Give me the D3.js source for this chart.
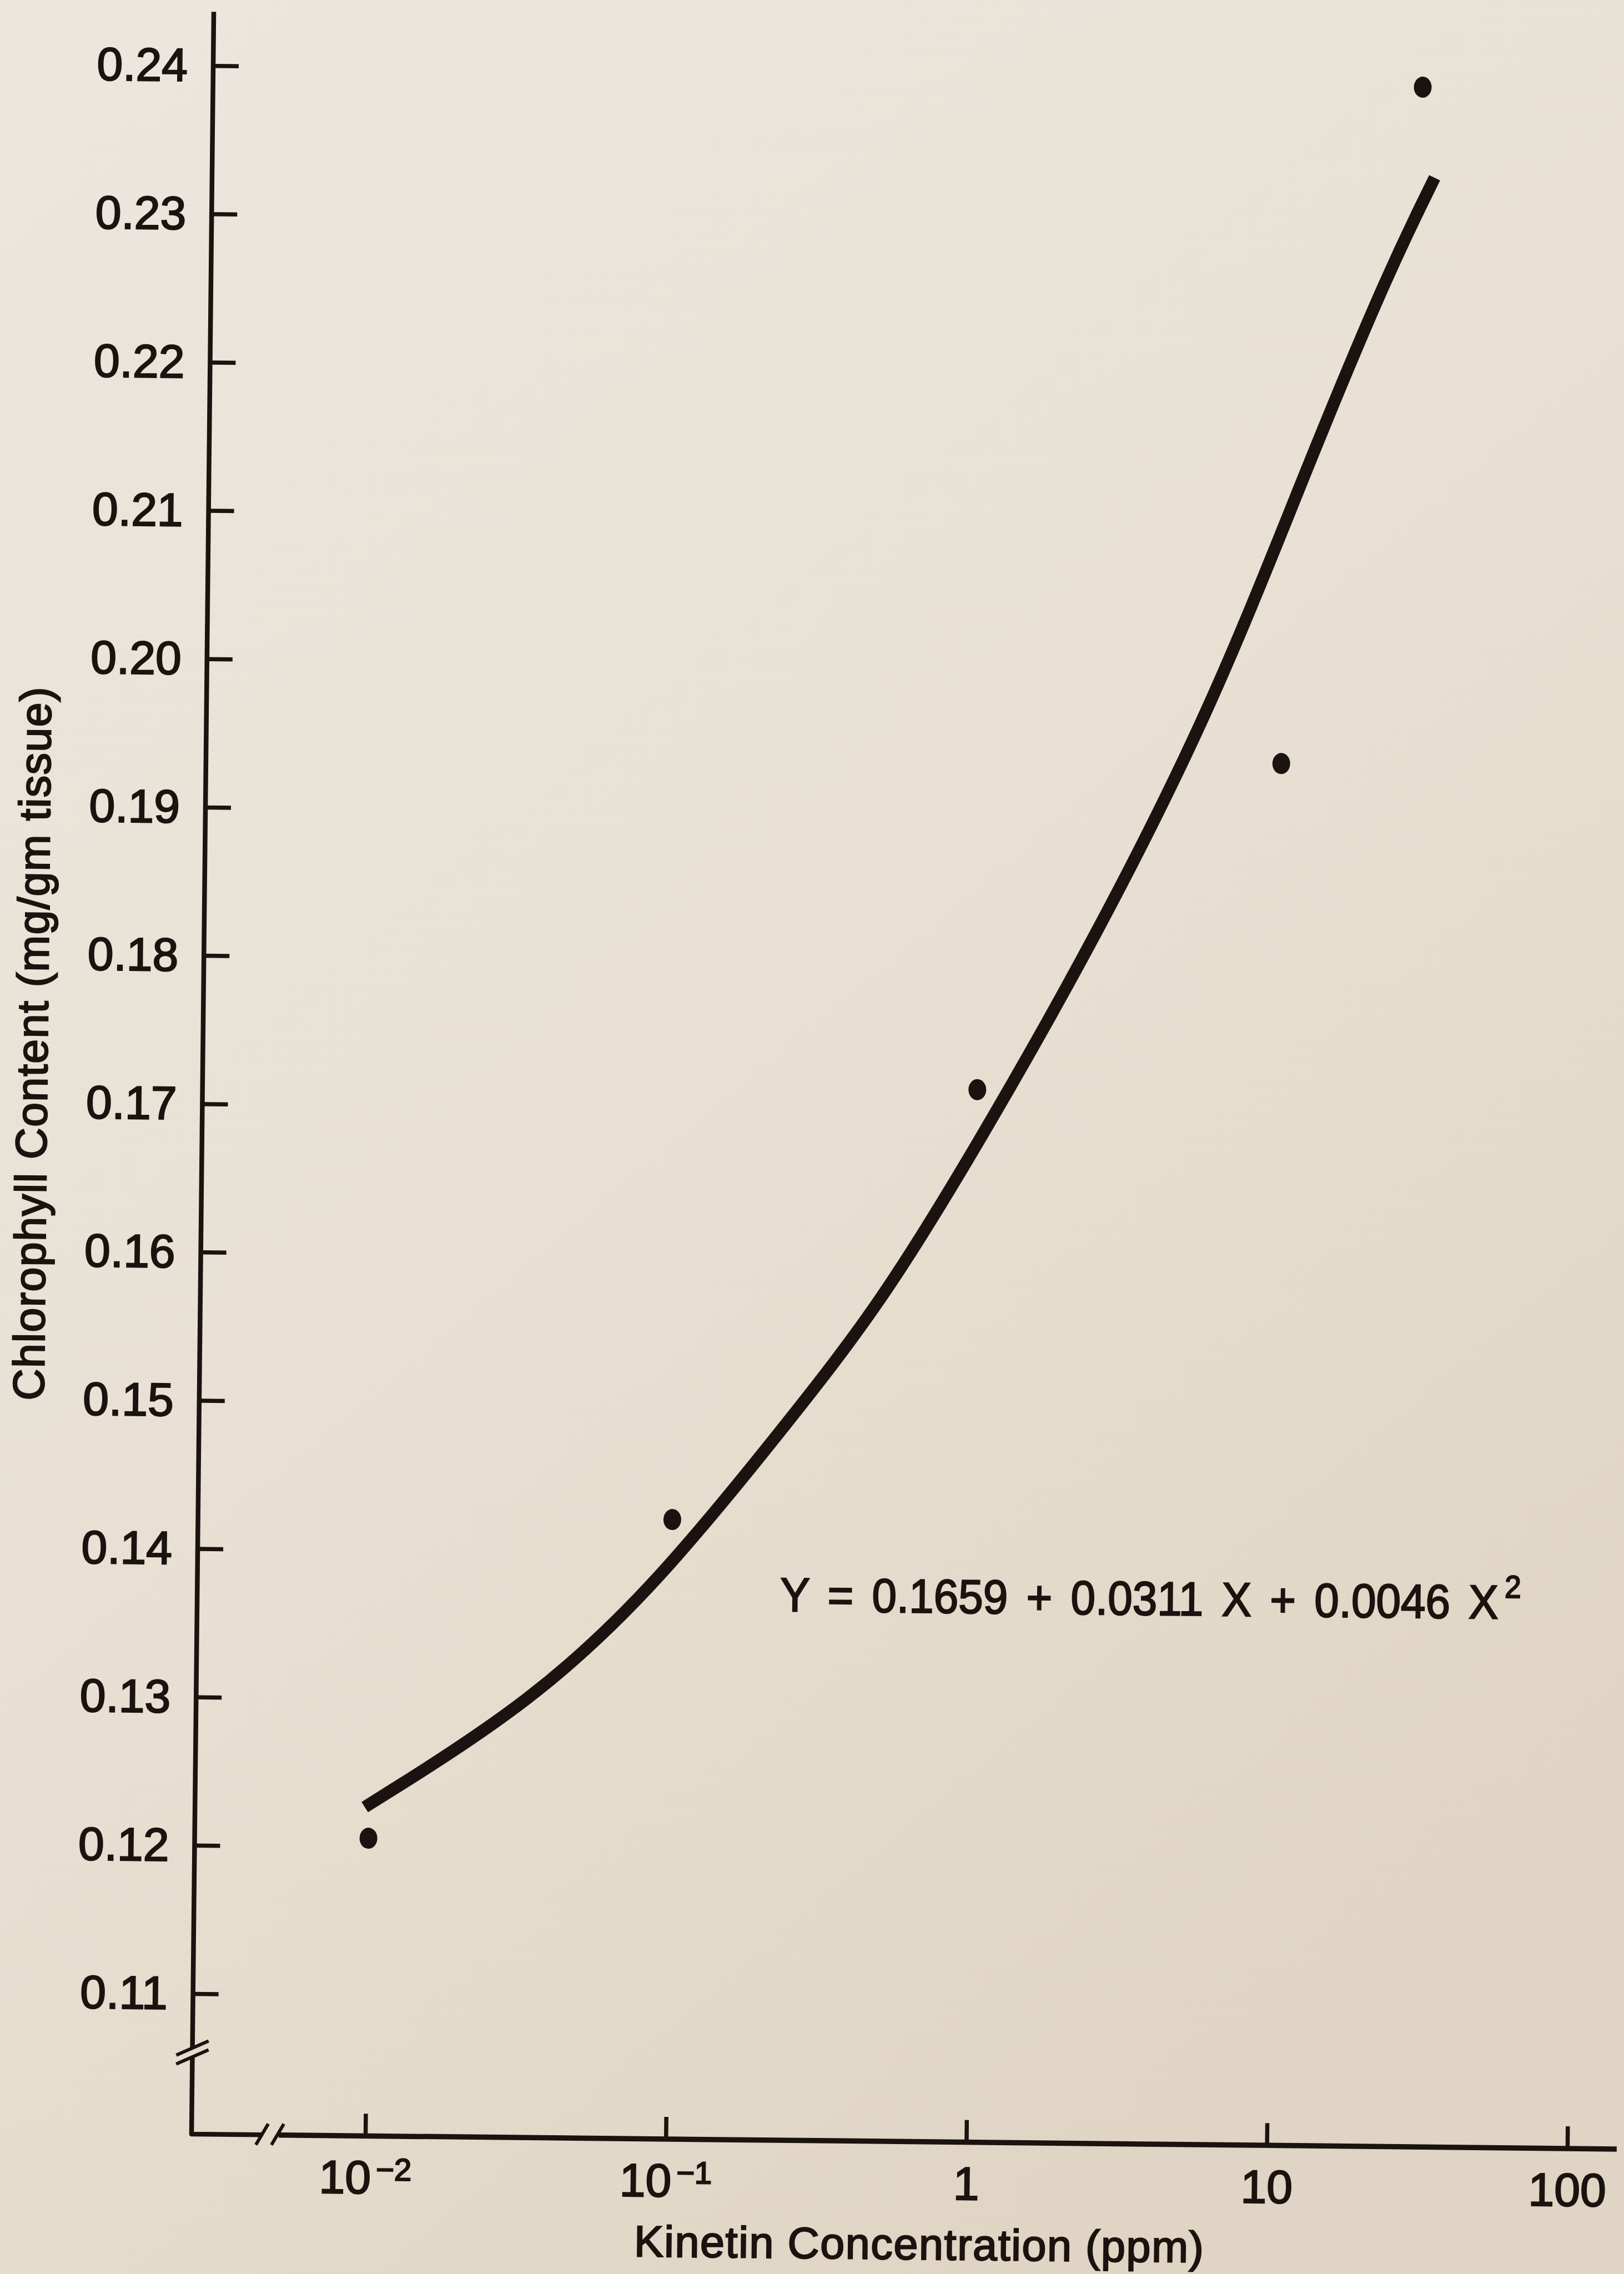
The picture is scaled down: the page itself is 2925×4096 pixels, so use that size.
<!DOCTYPE html>
<html>
<head>
<meta charset="utf-8">
<script src="https://cdn.jsdelivr.net/npm/d3@7"></script>
<style>
  html, body { margin: 0; padding: 0; background: #e8e1d5; }
  svg { display: block; }
  text { font-family: "Liberation Sans", Arial, Helvetica, sans-serif; fill: #1b130f; }
</style>
</head>
<body>
<svg id="chart" width="2925" height="4096"></svg>
<script>
// measured data (kinetin ppm vs chlorophyll mg/gm tissue)
var kinetinPpm = [0.01, 0.1, 1, 10, 28];
var chlorophyll = [0.1206, 0.1423, 0.1715, 0.1937, 0.2394];

// fitted curve as drawn on the figure
var curveConc = [0.0097, 0.0348, 0.091, 0.244, 0.489, 1.035, 2.427, 5.943, 11.78, 21.68, 30.9];
var curveChl = [0.1227, 0.1299, 0.1381, 0.1491, 0.1571, 0.1682, 0.1817, 0.1977, 0.2135, 0.2268, 0.2333];

var yTicks = [0.11, 0.12, 0.13, 0.14, 0.15, 0.16, 0.17, 0.18, 0.19, 0.20, 0.21, 0.22, 0.23, 0.24];
var xTicks = [0.01, 0.1, 1, 10, 100];
var xTickBase = ['10', '10', '1', '10', '100'];
var xTickExp = ['\u22122', '\u22121', '', '', ''];

var yTitle = 'Chlorophyll Content (mg/gm tissue)';
var xTitle = 'Kinetin Concentration (ppm)';
var eqText = 'Y = 0.1659 + 0.0311 X + 0.0046 X';
var eqSup = '2';
var eqAt = [0.23, 0.1362];

var ink = '#1b130f';
var svg = d3.select('#chart');
var W = +svg.attr('width'), H = +svg.attr('height');

var defs = svg.append('defs');
var bg = defs.append('linearGradient').attr('id', 'paper').attr('x1', 0).attr('y1', 0).attr('x2', 0.6).attr('y2', 1);
bg.append('stop').attr('offset', '0%').attr('stop-color', '#ebe7df');
bg.append('stop').attr('offset', '55%').attr('stop-color', '#e8e0d3');
bg.append('stop').attr('offset', '100%').attr('stop-color', '#e0d5c4');
svg.append('rect').attr('width', W).attr('height', H).attr('fill', 'url(#paper)');

// axis corner; the photographed page is turned a little clockwise
var cx = 345, cy = 3844;
var g = svg.append('g').attr('transform', 'rotate(0.6,' + cx + ',' + cy + ')');

var x = d3.scaleLog().domain([0.01, 100]).range([cx + 313, cx + 2478]);
var y = d3.scaleLinear().domain([0.11, 0.24]).range([cy - 253, cy - 3726]);

function inkText(sel, size) {
  sel.attr('font-size', size).attr('fill', ink).attr('stroke', ink).attr('stroke-width', 2.4)
    .style('font-family', '"Liberation Sans", Arial, sans-serif');
}

var yAxis = d3.axisLeft(y).tickValues(yTicks).tickSize(-46).tickPadding(46).tickFormat(d3.format('.2f'));
var yG = g.append('g').attr('transform', 'translate(' + cx + ',0)').call(yAxis);
yG.select('.domain').remove();
yG.selectAll('.tick line').attr('stroke', ink).attr('stroke-width', 7.5);
yG.selectAll('.tick text').call(inkText, 84).attr('dy', '0.33em');

var xAxis = d3.axisBottom(x).tickValues(xTicks).tickSize(-40).tickPadding(44).tickFormat(function(d, i) {
  return xTickBase[i];
});
var xG = g.append('g').attr('transform', 'translate(0,' + cy + ')').call(xAxis);
xG.select('.domain').remove();
xG.selectAll('.tick line').attr('stroke', ink).attr('stroke-width', 7.5);
xG.selectAll('.tick text').call(inkText, 84)
  .each(function(d, i) {
    if (xTickExp[i]) {
      d3.select(this).append('tspan').attr('font-size', 56).attr('dx', 9).attr('dy', -24).text(xTickExp[i]);
    }
  });

// axis lines with the scale breaks
var axisW = 8.5;
var yTop = y(0.24) - 97, yBreak = cy - 146, xBreak = cx + 139, xEnd = x(100) + 89;
g.append('line').attr('x1', cx).attr('y1', yTop).attr('x2', cx).attr('y2', yBreak - 9)
  .attr('stroke', ink).attr('stroke-width', axisW);
g.append('path').attr('d', 'M' + cx + ',' + (yBreak + 6) + 'V' + cy + 'H' + (xBreak - 12))
  .attr('fill', 'none').attr('stroke', ink).attr('stroke-width', axisW).attr('stroke-linejoin', 'round');
g.append('line').attr('x1', xBreak + 18).attr('y1', cy).attr('x2', xEnd).attr('y2', cy)
  .attr('stroke', ink).attr('stroke-width', axisW + 1);
[-9, 7].forEach(function(o) {
  g.append('line').attr('x1', cx - 29).attr('y1', yBreak + o + 13).attr('x2', cx + 29).attr('y2', yBreak + o - 13)
    .attr('stroke', ink).attr('stroke-width', 6);
});
[-12, 16].forEach(function(o) {
  g.append('line').attr('x1', xBreak + o - 11).attr('y1', cy + 18).attr('x2', xBreak + o + 11).attr('y2', cy - 20)
    .attr('stroke', ink).attr('stroke-width', 6);
});

// fitted curve
var curvePts = curveConc.map(function(c, i) { return [c, curveChl[i]]; });
var line = d3.line().x(function(d) { return x(d[0]); }).y(function(d) { return y(d[1]); }).curve(d3.curveBasis);
g.append('path').datum(curvePts).attr('d', line).attr('fill', 'none').attr('stroke', ink)
  .attr('stroke-width', 22).attr('stroke-linecap', 'butt');

// observed points
g.selectAll('ellipse.pt').data(kinetinPpm).enter().append('ellipse').attr('class', 'pt')
  .attr('cx', function(d) { return x(d); })
  .attr('cy', function(d, i) { return y(chlorophyll[i]); })
  .attr('rx', 16).attr('ry', 19).attr('fill', ink);

// equation, set in a slightly narrow face
var eqG = g.append('g').attr('transform', 'translate(' + x(eqAt[0]) + ',' + y(eqAt[1]) + ') scale(0.93,1)');
var eq = eqG.append('text').attr('x', 0).attr('y', 0).call(inkText, 86).style('word-spacing', '12px').text(eqText);
eq.append('tspan').attr('font-size', 57).attr('dx', 12).attr('dy', -38).text(eqSup);

// axis titles
g.append('text').attr('x', cx + 1312).attr('y', cy + 212).attr('text-anchor', 'middle')
  .call(inkText, 79).attr('textLength', 1026).attr('lengthAdjust', 'spacing').text(xTitle);
g.append('text').attr('transform', 'translate(' + (cx - 280) + ',' + (cy - 1961) + ') rotate(-90)')
  .attr('text-anchor', 'middle').call(inkText, 79).attr('textLength', 1285).attr('lengthAdjust', 'spacing')
  .text(yTitle);
</script>
</body>
</html>
